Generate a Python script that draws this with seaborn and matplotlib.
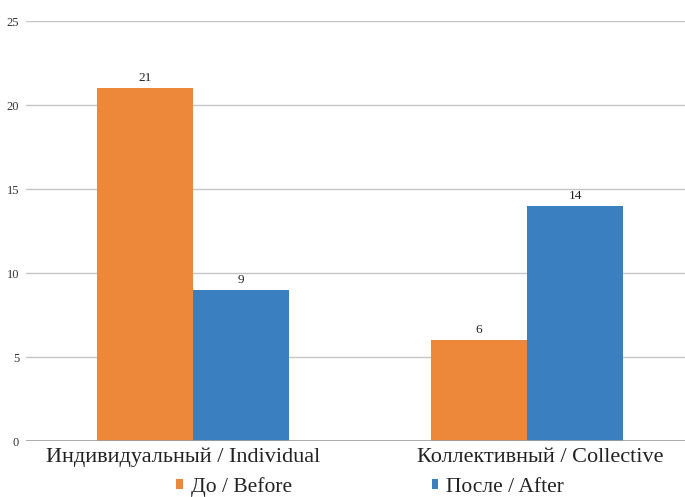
import matplotlib
matplotlib.use("Agg")
import matplotlib.pyplot as plt
import seaborn as sns
import pandas as pd

categories = ["Индивидуальный / Individual", "Коллективный / Collective"]
series_names = ["До / Before", "После / After"]
before_values = [21, 6]
after_values = [9, 14]
y_ticks = [0, 5, 10, 15, 20, 25]

colors = ["#ED883B", "#3A7FBF"]

df = pd.DataFrame({
    "category": categories * 2,
    "series": [series_names[0]] * 2 + [series_names[1]] * 2,
    "value": before_values + after_values,
})

sns.set_theme(style="white")
plt.rcParams["font.family"] = ["Liberation Serif", "DejaVu Serif"]

W, H = 685, 497
fig = plt.figure(figsize=(W / 100, H / 100), dpi=100)
ax = fig.add_axes([26 / W, 56 / H, 659 / W, 420 / H])

sns.barplot(data=df, x="category", y="value", hue="series",
            palette=colors, width=0.575, saturation=1, ax=ax,
            edgecolor="none", linewidth=0, zorder=3, legend=True)

for container in ax.containers:
    ax.bar_label(container, fmt="%d", padding=3, fontsize=9.5, color="#222222")

ax.set_ylim(0, 25)
ax.set_xlim(-0.5, 1.473)
ax.set_yticks(y_ticks)
ax.set_yticklabels([str(t) for t in y_ticks], fontsize=9, color="#333333")
ax.tick_params(axis="y", length=0, pad=5)
ax.set_xticks(range(len(categories)))
ax.set_xticklabels([])
ax.tick_params(axis="x", length=0)
ax.yaxis.grid(True, color="#c6c6c6", linewidth=1, zorder=0)
ax.axhline(0, color="#a0a0a0", linewidth=1.2, zorder=4)
ax.set_xlabel("")
ax.set_ylabel("")
for s in ax.spines.values():
    s.set_visible(False)

# category captions under each group
label_x = [183.5, 540]
for cx, cat in zip(label_x, categories):
    fig.text(cx / W, 1 - 457 / H, cat, ha="center", va="center",
             fontsize=16, color="#222222")

handles, labels = ax.get_legend_handles_labels()
ax.get_legend().remove()
fig.legend(handles, labels, loc="center", bbox_to_anchor=(370 / W, 1 - 487 / H),
           ncol=2, frameon=False, fontsize=15.5, handlelength=0.32, handleheight=0.32,
           handletextpad=0.35, columnspacing=6.5, labelcolor="#222222",
           borderpad=0, borderaxespad=0)

fig.savefig("out.png", dpi=100)
